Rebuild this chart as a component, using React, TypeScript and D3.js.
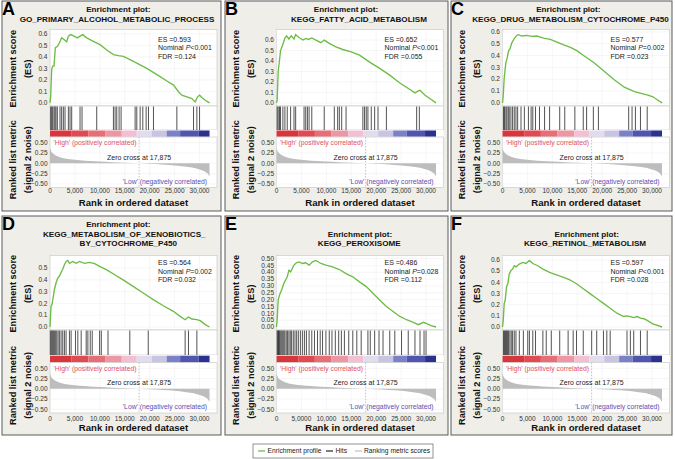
import React from "react";
import * as d3 from "d3";

// ---------------- DATA ----------------
const N_GENES = 32000;
const ZERO_CROSS = 17875;
const X_TICKS = [0, 5000, 10000, 15000, 20000, 25000, 30000];
const X_TICK_LABELS = ["0", "5,000", "10,000", "15,000", "20,000", "25,000", "30,000"];
const X_TICK_LABELS_E = ["0", "5,0000", "10,000", "15,000", "20,000", "25,000", "30,000"];
const RANK_TICKS = [0.5, 0.25, 0, -0.25, -0.5];
const RANK_TICK_LABELS = ["0.50", "0.25", "0.00", "\u22120.25", "\u22120.50"];

const PANEL_LETTERS = ["A", "B", "C", "D", "E", "F"];
const PANEL_TITLES = [
  ["Enrichment plot:", "GO_PRIMARY_ALCOHOL_METABOLIC_PROCESS"],
  ["Enrichment plot:", "KEGG_FATTY_ACID_METABOLISM"],
  ["Enrichment plot:", "KEGG_DRUG_METABOLISM_CYTOCHROME_P450"],
  ["Enrichment plot:", "KEGG_METABOLISM_OF_XENOBIOTICS_", "BY_CYTOCHROME_P450"],
  ["Enrichment plot:", "KEGG_PEROXISOME"],
  ["Enrichment plot:", "KEGG_RETINOL_METABOLISM"],
];
const ES_VALUES = [0.593, 0.652, 0.577, 0.564, 0.486, 0.597];
const P_TEXTS = ["<0.001", "<0.001", "=0.002", "=0.002", "=0.028", "<0.001"];
const FDR_TEXTS = ["0.124", "0.055", "0.023", "0.032", "0.112", "0.028"];
const ES_TICK_MAX = [0.6, 0.6, 0.6, 0.5, 0.5, 0.6];
const ES_TICK_STEP = [0.1, 0.1, 0.1, 0.1, 0.05, 0.1];
const ES_TICK_DEC = [1, 1, 1, 1, 2, 1];

// running enrichment score curves: [rank, ES]
const ES_A: [number, number][] = [
  [0, 0], [134, 0.05], [335, 0.29], [536, 0.32], [804, 0.32], [1070, 0.48], [1470, 0.49], [1875, 0.52],
  [2340, 0.565], [2810, 0.55], [3350, 0.53], [3680, 0.58], [4150, 0.593], [4820, 0.58], [5490, 0.565],
  [6030, 0.58], [6560, 0.593], [7370, 0.565], [8700, 0.535], [10040, 0.506], [11380, 0.46], [12720, 0.42],
  [13730, 0.41], [14730, 0.404], [16740, 0.36], [19420, 0.3], [22100, 0.228], [23440, 0.19], [24775, 0.155],
  [25780, 0.097], [26450, 0.067], [27450, 0.053], [28460, 0.038], [29130, 0.009], [29600, 0.053],
  [30000, 0.067], [30470, 0.047], [31140, 0.023], [32000, 0],
];
const ES_B: [number, number][] = [
  [0, 0], [135, 0.026], [337, 0.3], [607, 0.41], [809, 0.5], [1146, 0.54], [1348, 0.57], [1686, 0.62],
  [2023, 0.64], [2495, 0.61], [2967, 0.64], [3506, 0.61], [3843, 0.652], [4517, 0.625], [5326, 0.6],
  [5866, 0.616], [6405, 0.606], [7079, 0.62], [7888, 0.6], [8899, 0.575], [9574, 0.6], [10585, 0.568],
  [11933, 0.536], [13282, 0.51], [14967, 0.488], [16653, 0.456], [18675, 0.39], [20698, 0.33],
  [22721, 0.265], [24743, 0.19], [26766, 0.128], [27777, 0.096], [28451, 0.115], [28788, 0.121],
  [29799, 0.073], [30810, 0.04], [32000, 0],
];
const ES_C: [number, number][] = [
  [0, 0], [135, 0.05], [338, 0.21], [675, 0.34], [945, 0.38], [1215, 0.44], [1485, 0.456], [1890, 0.51],
  [2295, 0.54], [2835, 0.57], [3173, 0.577], [3848, 0.565], [4860, 0.571], [5873, 0.562], [6885, 0.565],
  [8235, 0.548], [9585, 0.537], [10935, 0.513], [12285, 0.49], [13635, 0.47], [14985, 0.44], [16335, 0.398],
  [18360, 0.34], [20385, 0.268], [22410, 0.196], [24435, 0.133], [26460, 0.095], [27810, 0.08],
  [29160, 0.066], [30173, 0.052], [31185, 0.023], [32000, 0],
];
const ES_D: [number, number][] = [
  [0, 0], [67, 0.06], [202, 0.175], [404, 0.19], [673, 0.26], [874, 0.316], [1211, 0.373], [1547, 0.415],
  [1883, 0.43], [2220, 0.463], [2556, 0.49], [2892, 0.528], [3228, 0.556], [3565, 0.564], [3901, 0.54],
  [4574, 0.556], [5246, 0.54], [5919, 0.556], [6928, 0.54], [7937, 0.548], [8946, 0.537], [9954, 0.514],
  [11300, 0.486], [12981, 0.443], [14663, 0.4], [16680, 0.345], [18698, 0.288], [20716, 0.232],
  [22734, 0.18], [24752, 0.133], [26097, 0.09], [27106, 0.062], [27778, 0.085], [28451, 0.068],
  [29460, 0.062], [30133, 0.054], [31142, 0.02], [32000, 0],
];
const ES_E: [number, number][] = [
  [0, 0], [135, 0.053], [337, 0.198], [607, 0.234], [876, 0.258], [1146, 0.283], [1483, 0.319],
  [1820, 0.343], [2157, 0.367], [2495, 0.415], [2832, 0.403], [3169, 0.427], [3506, 0.452], [3978, 0.469],
  [4517, 0.476], [5191, 0.464], [5866, 0.469], [6540, 0.452], [7214, 0.476], [7888, 0.486], [8899, 0.464],
  [9911, 0.452], [11259, 0.44], [12607, 0.42], [13956, 0.39], [15304, 0.367], [16653, 0.33], [18001, 0.295],
  [19349, 0.246], [20698, 0.198], [22046, 0.15], [23394, 0.113], [24743, 0.077], [26091, 0.053],
  [27440, 0.034], [28451, 0.017], [29462, 0.034], [30136, 0.024], [31000, 0.01], [32000, 0],
];
const ES_F: [number, number][] = [
  [0, 0], [135, 0.05], [338, 0.21], [540, 0.24], [810, 0.36], [1080, 0.39], [1350, 0.476], [1688, 0.506],
  [2025, 0.52], [2363, 0.55], [2700, 0.54], [3375, 0.565], [4050, 0.58], [4725, 0.57], [5400, 0.597],
  [6075, 0.57], [7088, 0.55], [8100, 0.52], [9450, 0.49], [10800, 0.468], [12150, 0.447], [13500, 0.424],
  [14850, 0.388], [16200, 0.344], [17550, 0.3], [18900, 0.256], [20250, 0.212], [21600, 0.168],
  [22950, 0.124], [24300, 0.094], [24975, 0.1], [25650, 0.094], [26325, 0.085], [27000, 0.094],
  [27675, 0.08], [28350, 0.074], [29025, 0.059], [30038, 0.03], [32000, 0],
];

// hit ranks
const HITS_A = [134, 335, 536, 804, 1004, 1205, 1473, 2009, 2344, 2678, 3013, 3683, 4018, 4352, 6026, 6428, 9374,
  12722, 13057, 13392, 13861, 14262, 17075, 17410, 18080, 18615, 19284, 19753, 20758, 25445, 28793, 29462, 30000];
const HITS_B = [135, 337, 607, 809, 1281, 1686, 2157, 2832, 3506, 3843, 5528, 5866, 6203, 6540, 7079, 9574,
  11596, 12270, 12607, 13079, 13956, 17327, 17664, 18001, 18338, 19012, 19687, 20361, 22046, 28114, 28653];
const HITS_C = [203, 405, 675, 878, 1148, 1350, 1688, 2025, 2363, 2700, 3038, 3713, 4388, 5198, 5738, 6075, 6615,
  7425, 8438, 9450, 11475, 12488, 14513, 16200, 16875, 18225, 19238, 25313, 25988, 26663, 27675, 29025];
const HITS_D = [67, 269, 471, 673, 874, 1076, 1345, 1614, 1883, 2220, 2556, 2892, 3228, 3901, 4237, 5112, 5583,
  6255, 7264, 7600, 8071, 8475, 9954, 10291, 11636, 16008, 19707, 27106, 27778, 29460];
const HITS_E = [135, 270, 405, 540, 674, 876, 1079, 1281, 1483, 1686, 1955, 2225, 2495, 2764, 3034, 3371, 3708,
  4045, 4382, 4787, 5191, 5596, 6000, 6540, 7079, 7618, 8225, 8765, 9237, 9911, 10585, 11124, 11799, 12473,
  13012, 13619, 14496, 15304, 16113, 16990, 18338, 18810, 19687, 20563, 21372, 22720, 23732, 25080, 26428,
  27776, 28788, 29597, 30002];
const HITS_F = [203, 405, 608, 810, 1013, 1215, 1485, 1755, 2025, 2363, 2700, 3375, 4185, 5063, 5400, 6075, 6615,
  8100, 8775, 9788, 11475, 13163, 14175, 14850, 16200, 17888, 18900, 20250, 20925, 21600, 24975, 25650,
  26325, 27675, 29025];

// ranked list metric (signal 2 noise): [rank, value]
const RANKED_METRIC: [number, number][] = [
  [0, 0.38], [150, 0.32], [400, 0.26], [800, 0.22], [1500, 0.17], [2500, 0.13], [4000, 0.1], [6000, 0.075],
  [8000, 0.058], [10000, 0.042], [12500, 0.028], [15000, 0.015], [17875, 0], [20000, -0.012],
  [22500, -0.03], [25000, -0.05], [27000, -0.075], [28500, -0.1], [29500, -0.13], [30500, -0.17],
  [31200, -0.21], [31700, -0.26], [32000, -0.32],
];

// colour bar segment boundaries (ranks)
const BAR_BOUNDS = [0, 4350, 7700, 11050, 14400, 17400, 20400, 23400, 26100, 29800, 32000];

const ES_SERIES = [ES_A, ES_B, ES_C, ES_D, ES_E, ES_F];
const HITS_SERIES = [HITS_A, HITS_B, HITS_C, HITS_D, HITS_E, HITS_F];

// ---------------- LAYOUT / STYLE ----------------
const BAR_COLORS = ["#d8363d", "#e04b52", "#e66f77", "#ec98a4", "#f2bfd3", "#e3dcee", "#c8c4e3", "#7c80c6", "#5055ae", "#2a318e"];
const FONT = "'Liberation Sans', Arial, Helvetica, sans-serif";
const GREEN = "#6dbd45";
const PANEL_X = [2, 225, 451];
const PANEL_W = [219, 223, 221];
const PLOT_L = [50, 276.5, 502.5];
const PLOT_W = 167;
const X_DOMAIN_MAX = 33500;
const ROWS = [
  { top: 1, height: 210, plotTop: 29.5, esBottom: 106, hitsBottom: 130, barTop: 130.5, barBottom: 136.7,
    rankTop: 137, rankBottom: 187.5, rPos: 142.7, rNeg: 184, tickY: 192.5, titleY: 206, statsY: 41.5 },
  { top: 216, height: 219, plotTop: 255.5, esBottom: 330, hitsBottom: 355, barTop: 355.7, barBottom: 362.3,
    rankTop: 362.7, rankBottom: 413, rPos: 368.3, rNeg: 409.3, tickY: 420.8, titleY: 431, statsY: 265 },
];
const TITLE_X = [[118.3, 117], [346, 359], [568.3, 570.5], [118.3, 124.3, 128.3], [360, 359.2], [586.7, 585]];
const TITLE_Y = [[11.5, 21.8], [11.5, 21.8], [11.5, 21.8], [227, 236.8, 246.3], [236.5, 245.8], [236.5, 245.8]];

function Panel({ i }: { i: number }) {
  const col = i % 3;
  const row = ROWS[Math.floor(i / 3)];
  const px = PANEL_X[col];
  const pl = PLOT_L[col];
  const pr = pl + PLOT_W;
  const x = d3.scaleLinear().domain([0, X_DOMAIN_MAX]).range([pl, pr]);
  const es = ES_VALUES[i];
  const y = d3.scaleLinear().domain([-0.045 * es, 1.075 * es]).range([row.esBottom, row.plotTop]);
  const yr = d3.scaleLinear().domain([-0.5, 0.5]).range([row.rNeg, row.rPos]);
  const esTicks = d3.range(0, ES_TICK_MAX[i] + 1e-6, ES_TICK_STEP[i]);
  const line = d3.line<[number, number]>().x((d) => x(d[0])).y((d) => y(d[1]));
  const area = d3.area<[number, number]>().x((d) => x(d[0])).y0(yr(0)).y1((d) => yr(d[1])).curve(d3.curveMonotoneX);
  const xLabels = i === 4 ? X_TICK_LABELS_E : X_TICK_LABELS;
  const esMid = (row.plotTop + row.esBottom) / 2 + 1;
  const rMid = (row.rankTop + row.rankBottom) / 2 - 2.5;
  const ylx1 = px + 14.3;
  const ylx2 = px + 28.6;
  const statX = pl + 108;
  const gridColor = "#ececec";
  return (
    <g fontFamily={FONT}>
      <rect x={px} y={row.top} width={PANEL_W[col]} height={row.height} fill="#efeee8" stroke="#5a5a5a" strokeWidth={1} />
      {/* ES plot */}
      <rect x={pl} y={row.plotTop} width={PLOT_W} height={row.esBottom - row.plotTop} fill="#fff" stroke="#c4c4c4" strokeWidth={0.6} />
      {X_TICKS.map((t) => (
        <line key={"gx" + t} x1={x(t)} x2={x(t)} y1={row.plotTop} y2={row.esBottom} stroke={gridColor} strokeWidth={0.5} />
      ))}
      {esTicks.map((t) => (
        <line key={"gy" + t} x1={pl} x2={pr} y1={y(t)} y2={y(t)} stroke={gridColor} strokeWidth={0.5} />
      ))}
      {esTicks.map((t) => (
        <text key={"ty" + t} x={pl - 2.5} y={y(t) + 2.2} fontSize={6.5} textAnchor="end" fill="#333">
          {t.toFixed(ES_TICK_DEC[i])}
        </text>
      ))}
      <path d={line(ES_SERIES[i]) || ""} fill="none" stroke={GREEN} strokeWidth={1.35} />
      <text x={statX} y={row.statsY} fontSize={7} fill="#222">ES =0.{String(es.toFixed(3)).slice(2)}</text>
      <text x={statX} y={row.statsY + 8.7} fontSize={7} fill="#222">
        Nominal <tspan fontStyle="italic">P</tspan>{P_TEXTS[i]}
      </text>
      <text x={statX} y={row.statsY + 17.4} fontSize={7} fill="#222">FDR ={FDR_TEXTS[i]}</text>
      {/* hits */}
      <rect x={pl} y={row.esBottom} width={PLOT_W} height={row.hitsBottom - row.esBottom} fill="#fff" stroke="#c4c4c4" strokeWidth={0.6} />
      {HITS_SERIES[i].map((h, k) => (
        <line key={"h" + k} x1={x(h)} x2={x(h)} y1={row.esBottom + 0.5} y2={row.hitsBottom} stroke="#1a1a1a" strokeWidth={0.75} />
      ))}
      {/* colour bar */}
      <rect x={pl} y={row.hitsBottom} width={PLOT_W} height={row.rankTop - row.hitsBottom} fill="#fff" />
      {BAR_COLORS.map((c, k) => (
        <rect key={"b" + k} x={x(BAR_BOUNDS[k])} y={row.barTop} width={x(BAR_BOUNDS[k + 1]) - x(BAR_BOUNDS[k])}
          height={row.barBottom - row.barTop} fill={c} />
      ))}
      {/* ranked list */}
      <rect x={pl} y={row.rankTop} width={PLOT_W} height={row.rankBottom - row.rankTop} fill="#fff" stroke="#c4c4c4" strokeWidth={0.6} />
      {X_TICKS.map((t) => (
        <line key={"rgx" + t} x1={x(t)} x2={x(t)} y1={row.rankTop} y2={row.rankBottom} stroke={gridColor} strokeWidth={0.5} />
      ))}
      {RANK_TICKS.map((t) => (
        <line key={"rgy" + t} x1={pl} x2={pr} y1={yr(t)} y2={yr(t)} stroke={gridColor} strokeWidth={0.5} />
      ))}
      <path d={area(RANKED_METRIC) || ""} fill="#bdbdbd" />
      <line x1={x(ZERO_CROSS)} x2={x(ZERO_CROSS)} y1={row.rankTop} y2={row.rankBottom} stroke="#9a9a9a" strokeWidth={0.6} strokeDasharray="1.5,1.5" />
      {RANK_TICKS.map((t, k) => (
        <text key={"rt" + t} x={pl - 2.5} y={yr(t) + 2.2} fontSize={6.5} textAnchor="end" fill="#333">
          {RANK_TICK_LABELS[k]}
        </text>
      ))}
      <text x={pl + 3.5} y={row.rPos + 2.5} fontSize={6.8} fill="#e0535f">'High' (positively correlated)</text>
      <text x={x(ZERO_CROSS)} y={yr(0) - 3.5} fontSize={7} textAnchor="middle" fill="#222">Zero cross at 17,875</text>
      <text x={x(N_GENES) - 2.5} y={row.rNeg - 0.5} fontSize={6.8} textAnchor="end" fill="#5a4fb5">'Low' (negatively correlated)</text>
      {X_TICKS.map((t, k) => (
        <text key={"tx" + t} x={x(t)} y={row.tickY} fontSize={6.5} textAnchor="middle" fill="#333">{xLabels[k]}</text>
      ))}
      <text x={(pl + pr) / 2} y={row.titleY} fontSize={9.6} fontWeight="bold" textAnchor="middle" fill="#111">Rank in ordered dataset</text>
      {/* axis titles */}
      <text transform={`translate(${ylx1},${esMid}) rotate(-90)`} fontSize={9.2} fontWeight="bold" textAnchor="middle" fill="#111">Enrichment score</text>
      <text transform={`translate(${ylx2},${esMid}) rotate(-90)`} fontSize={9.2} fontWeight="bold" textAnchor="middle" fill="#111">(ES)</text>
      <text transform={`translate(${ylx1},${rMid}) rotate(-90)`} fontSize={9.2} fontWeight="bold" textAnchor="middle" fill="#111">Ranked list metric</text>
      <text transform={`translate(${ylx2},${rMid}) rotate(-90)`} fontSize={9.2} fontWeight="bold" textAnchor="middle" fill="#111">(signal 2 noise)</text>
      {/* titles */}
      {PANEL_TITLES[i].map((s, k) => (
        <text key={"tt" + k} x={TITLE_X[i][k]} y={TITLE_Y[i][k]} fontSize={8.1} fontWeight="bold" textAnchor="middle" fill="#111">{s}</text>
      ))}
      <text x={px} y={row.top + 13.5} fontSize={18} fontWeight="bold" fill="#000">{PANEL_LETTERS[i]}</text>
    </g>
  );
}

export default function App() {
  return (
    <svg width={675} height={459} viewBox="0 0 675 459" style={{ position: "absolute", left: 0, top: 0, display: "block", background: "#fff" }}>
      <rect x={0} y={0} width={675} height={459} fill="#fff" />
      {[0, 1, 2, 3, 4, 5].map((i) => (
        <Panel key={i} i={i} />
      ))}
      <g fontFamily={FONT} fontSize={6.7} fill="#222">
        <rect x={253} y={444} width={180} height={14} fill="#fff" stroke="#666" strokeWidth={0.7} />
        <line x1={258} x2={265} y1={451} y2={451} stroke={GREEN} strokeWidth={1.3} />
        <text x={267.5} y={453.4}>Enrichment profile</text>
        <line x1={326} x2={333} y1={451} y2={451} stroke="#111" strokeWidth={1.1} />
        <text x={335.5} y={453.4}>Hits</text>
        <line x1={355} x2={362} y1={451} y2={451} stroke="#bbb" strokeWidth={1.1} />
        <text x={364} y={453.4}>Ranking metric scores</text>
      </g>
    </svg>
  );
}
